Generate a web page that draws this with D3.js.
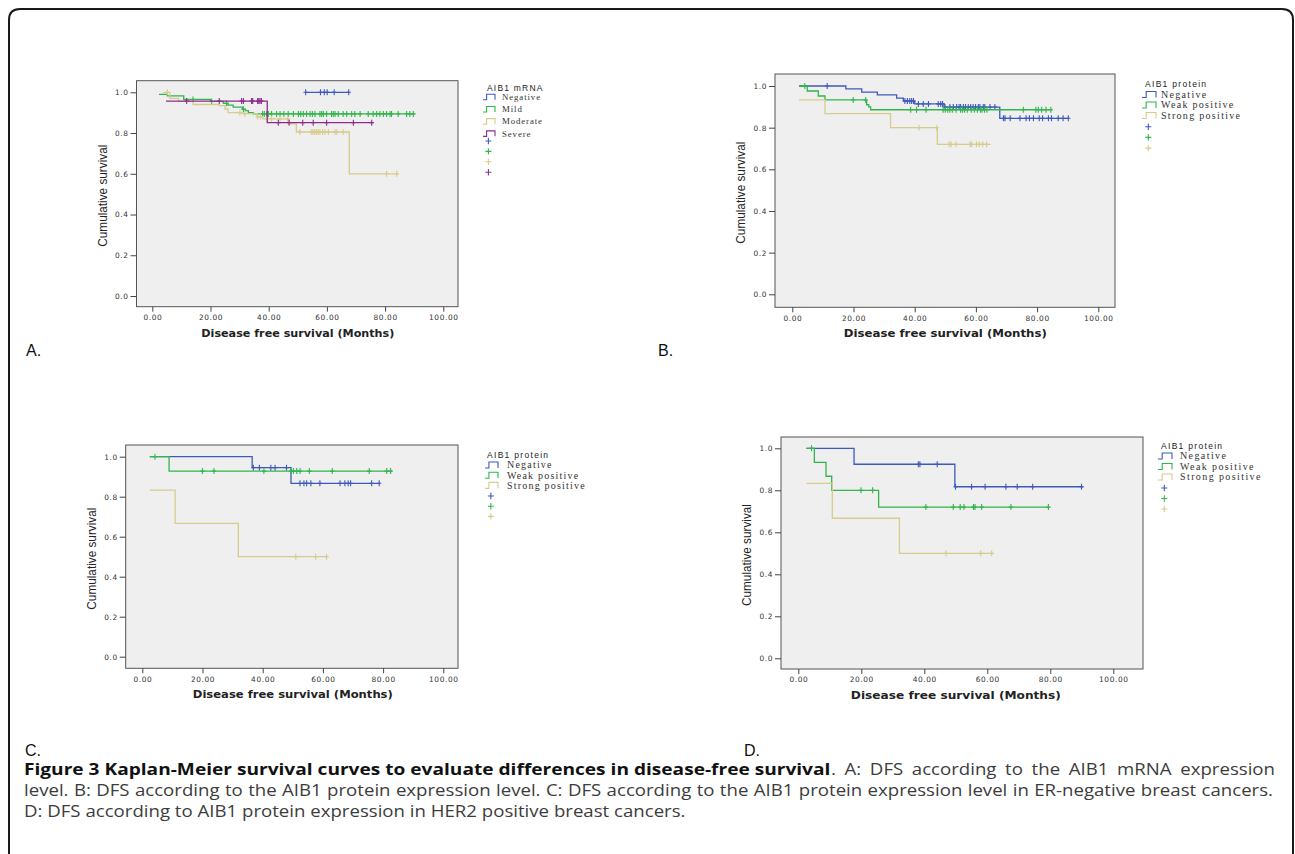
<!DOCTYPE html>
<html>
<head>
<meta charset="utf-8">
<script src="https://cdn.jsdelivr.net/npm/d3@7"></script>
<style>
  body { margin: 0; background: #fff; }
</style>
</head>
<body>
<script>
// ---- data: each step array is [time, survival after time], censor arrays are times ----
const xTicks = [0, 20, 40, 60, 80, 100];
const yTicks = [0, 0.2, 0.4, 0.6, 0.8, 1.0];

// A: AIB1 mRNA
const namesA = ["Negative", "Mild", "Moderate", "Severe"];
const negA = [[52.7, 1.0], [67.5, 1.0]];
const negACens = [52.7, 57.8, 59.1, 60.1, 62.5, 67.5];
const mildA = [[2.3, 0.99], [5.2, 0.982], [10.8, 0.965], [20, 0.955], [24.4, 0.946], [26, 0.937],
  [27.8, 0.927], [31, 0.917], [32, 0.91], [33, 0.90], [34.7, 0.894], [90.3, 0.894]];
const mildACens = [14, 20.4, 25.5, 31.3, 37.9, 38.5, 39.3, 39.9, 41.0, 42.7, 43.9, 45.2, 46.7, 48.5,
  50.2, 51.0, 51.9, 53.0, 54.2, 55.0, 55.9, 57.6, 58.2, 58.8, 59.9, 61.6, 62.2, 62.8, 63.9, 65.6,
  66.8, 68.5, 69.6, 71.4, 74.2, 75.9, 77.1, 78.2, 79.4, 80.5, 81.7, 82.2, 84.5, 87.4, 88.5, 89.7];
const modA = [[3.8, 1.0], [6, 0.97], [9, 0.955], [14, 0.94], [23, 0.935], [25, 0.918], [26, 0.9],
  [31, 0.895], [36, 0.88], [38, 0.87], [47, 0.845], [49.5, 0.805], [67.7, 0.60], [84.5, 0.60]];
const modACens = [5.2, 30.1, 31.8, 36.2, 37.2, 39.4, 41, 43.9, 46.5, 50.7, 54.6, 55.2, 55.8, 56.4,
  57, 57.6, 58.5, 59.3, 60.5, 62.8, 63.4, 65.6, 80.5, 84];
const sevA = [[4.7, 0.957], [39.5, 0.851], [76, 0.851]];
const sevACens = [11.8, 23, 30.7, 31.3, 34.1, 34.5, 36.2, 36.6, 37, 37.5, 43.3, 47, 51.7, 55.3,
  59.9, 69.1, 75.4];

// B: AIB1 protein
const namesProt = ["Negative", "Weak positive", "Strong positive"];
const negB = [[2.2, 1.0], [17.5, 0.986], [22.7, 0.971], [27.8, 0.957], [34.1, 0.942], [36.3, 0.928],
  [40, 0.914], [49.6, 0.899], [67.8, 0.845], [90.2, 0.845]];
const negBCens = [11.4, 36.8, 37.6, 38.4, 39, 39.6, 41.2, 42.8, 44.5, 47.7, 48.5, 49.1, 49.9, 51.5,
  52.6, 53.7, 54.5, 55, 55.9, 56.6, 57.5, 58.3, 59.1, 59.9, 60.8, 61.3, 62.4, 62.9, 64.6, 66.2,
  69, 69.5, 71.2, 74.4, 76.4, 77.5, 78.8, 80.7, 81.8, 83.7, 84.7, 86.9, 88.5, 90.2];
const weakB = [[2.2, 1.0], [4.9, 0.976], [8.5, 0.952], [10.7, 0.933], [24.3, 0.91], [25, 0.9],
  [25.6, 0.886], [84.7, 0.886]];
const weakBCens = [4.1, 19.9, 24, 38.7, 40.6, 43.7, 49.3, 50, 50.8, 51.5, 52.3, 53.5, 55, 55.6,
  56.3, 57.2, 58.5, 59.5, 60.5, 61.5, 62, 62.8, 63.6, 75.5, 79.6, 80.4, 81.5, 82.9, 84.5];
const strongB = [[2.2, 0.933], [10.7, 0.867], [32.1, 0.80], [47.4, 0.72], [64.8, 0.72]];
const strongBCens = [41.4, 47.2, 51.3, 51.9, 53.5, 58.1, 58.6, 60.2, 61.1, 62.2, 63.5];

// C: ER-negative
const negC = [[2.5, 1.0], [36.5, 0.945], [49.4, 0.867], [79, 0.867]];
const negCCens = [36.9, 38.9, 42.7, 44.1, 47.9, 52.4, 53.7, 54.6, 56, 59, 65.7, 67.3, 68.4, 69.2, 76.2, 78.7];
const weakC = [[2.5, 1.0], [8.9, 0.928], [83, 0.928]];
const weakCCens = [4.2, 20, 23.8, 40.4, 49.4, 50.2, 51.3, 52.4, 55.5, 63.1, 75.4, 81.2, 82.5];
const strongC = [[2.5, 0.833], [10.9, 0.667], [31.9, 0.5], [61.8, 0.5]];
const strongCCens = [51, 57.6, 61.2];

// D: HER2 positive
const negD = [[2.6, 1.0], [17.7, 0.924], [49.7, 0.817], [90.5, 0.817]];
const negDCens = [38.1, 38.6, 44.1, 49.9, 55, 59.3, 65.9, 69.5, 74.4, 89.9];
const weakD = [[2.6, 1.0], [5.1, 0.933], [8.8, 0.867], [10.6, 0.80], [25.5, 0.72], [79.7, 0.72]];
const weakDCens = [4.2, 19.9, 23.6, 40.5, 49.2, 51.4, 52.6, 55.6, 56.1, 58.2, 67.5, 79.4];
const strongD = [[2.6, 0.833], [10.8, 0.667], [32.1, 0.5], [61.9, 0.5]];
const strongDCens = [46.9, 57.9, 61.4];

const colors = ["#3f59bd", "#30b64a", "#d8cb8e", "#8e2b8e"];

// caption text
const captionBold = "Figure 3 Kaplan-Meier survival curves to evaluate differences in disease-free survival";
const captionLines = [
  ". A: DFS according to the AIB1 mRNA expression",
  "level. B: DFS according to the AIB1 protein expression level. C: DFS according to the AIB1 protein expression level in ER-negative breast cancers.",
  "D: DFS according to AIB1 protein expression in HER2 positive breast cancers."
];

const svg = d3.select("body").append("svg")
  .attr("width", 1295)
  .attr("height", 854)
  .style("font-family", "Liberation Sans, Arial, sans-serif");

// outer figure box, rounded top corners
svg.append("path")
  .attr("d", "M9,870 V20 Q9,9 20,9 H1282 Q1293,9 1293,20 V870")
  .attr("fill", "none")
  .attr("stroke", "#1a1a1a")
  .attr("stroke-width", 2);

// survival value at time t (step function)
function survAt(steps, t) {
  let s = steps[0][1];
  for (const p of steps) { if (p[0] <= t) s = p[1]; }
  return s;
}

function drawPanel(cfg, series, names, legendTitle) {
  const x = d3.scaleLinear().domain([0, 100]).range([cfg.x0, cfg.x100]);
  const y = d3.scaleLinear().domain([0, 1]).range([cfg.y0, cfg.y1]);
  const g = svg.append("g");

  g.append("rect")
    .attr("x", cfg.fl).attr("y", cfg.ft)
    .attr("width", cfg.fr - cfg.fl).attr("height", cfg.fb - cfg.ft)
    .attr("fill", "#efefef")
    .attr("stroke", "#555").attr("stroke-width", 1);

  // axes
  const ax = g.append("g")
    .attr("transform", `translate(0,${cfg.fb})`)
    .call(d3.axisBottom(x).tickValues(xTicks).tickFormat(d3.format(".2f")).tickSize(5).tickPadding(3));
  const ay = g.append("g")
    .attr("transform", `translate(${cfg.fl},0)`)
    .call(d3.axisLeft(y).tickValues(yTicks).tickFormat(d3.format(".1f")).tickSize(6).tickPadding(2));
  [ax, ay].forEach(a => {
    a.select(".domain").remove();
    a.selectAll("line").attr("stroke", "#444");
    a.selectAll("text")
      .attr("font-family", "DejaVu Sans, sans-serif")
      .attr("font-size", "7.4px")
      .style("letter-spacing", "0.6px")
      .attr("fill", "#333");
  });

  g.append("text")
    .attr("x", (cfg.x0 + cfg.x100) / 2)
    .attr("y", cfg.fb + 30)
    .attr("text-anchor", "middle")
    .attr("textLength", cfg.tlen)
    .attr("lengthAdjust", "spacingAndGlyphs")
    .attr("font-family", "DejaVu Sans, sans-serif")
    .attr("font-weight", "bold")
    .attr("font-size", "11px")
    .attr("fill", "#222")
    .text("Disease free survival (Months)");

  g.append("text")
    .attr("transform", `translate(${cfg.fl - 30},${(cfg.ft + cfg.fb) / 2 + 2}) rotate(-90)`)
    .attr("text-anchor", "middle")
    .attr("textLength", 102)
    .attr("lengthAdjust", "spacingAndGlyphs")
    .attr("font-size", "12px")
    .attr("fill", "#222")
    .text("Cumulative survival");

  // curves
  const line = d3.line().x(d => x(d[0])).y(d => y(d[1])).curve(d3.curveStepAfter);
  series.forEach((s, i) => {
    g.append("path")
      .attr("d", line(s.steps))
      .attr("fill", "none")
      .attr("stroke", colors[i])
      .attr("stroke-width", 1.3);
    g.append("g").selectAll("path")
      .data(s.cens)
      .enter().append("path")
      .attr("transform", d => `translate(${x(d)},${y(survAt(s.steps, d))})`)
      .attr("d", "M-2.2,0H2.2M0,-3V3")
      .attr("stroke", colors[i])
      .attr("stroke-width", 1.1);
  });

  // legend
  const L = cfg.leg;
  g.append("text")
    .attr("x", L.titleX).attr("y", L.titleY + 3)
    .attr("font-size", L.titleFs + "px")
    .style("letter-spacing", L.titleLs + "px")
    .attr("fill", "#222")
    .text(legendTitle);
  names.forEach((n, i) => {
    const ry = L.y + i * L.dy;
    g.append("path")
      .attr("d", `M${L.sx},${ry + L.sh / 2} H${L.sx + L.sw * 0.3} V${ry - L.sh / 2} H${L.sx + L.sw} V${ry + L.sh / 2}`)
      .attr("fill", "none")
      .attr("stroke", colors[i])
      .attr("stroke-width", 1.1);
    g.append("text")
      .attr("x", L.tx).attr("y", ry + L.fs * 0.33)
      .attr("font-family", "Liberation Serif, Times New Roman, serif")
      .attr("font-size", L.fs + "px")
      .style("letter-spacing", L.ls + "px")
      .attr("fill", "#333")
      .text(n);
  });
  names.forEach((n, i) => {
    const ry = L.cy + i * L.cdy;
    g.append("path")
      .attr("transform", `translate(${L.sx + L.sw * 0.45},${ry})`)
      .attr("d", "M-3,0H3M0,-3.2V3.2")
      .attr("stroke", colors[i])
      .attr("stroke-width", 1.1);
  });
}

drawPanel({
  fl: 136.5, ft: 80.7, fr: 458, fb: 306.7,
  x0: 152.3, x100: 443.3, y0: 296, y1: 92.3, tlen: 193,
  leg: { titleX: 487, titleY: 88, titleFs: 8.5, titleLs: 1.2, sx: 483, sw: 12, sh: 5.5, tx: 502,
         y: 97, dy: 12.2, fs: 8.8, ls: 0.9, cy: 141, cdy: 10.4 }
}, [
  { steps: negA, cens: negACens },
  { steps: mildA, cens: mildACens },
  { steps: modA, cens: modACens },
  { steps: sevA, cens: sevACens }
], namesA, "AIB1 mRNA");

drawPanel({
  fl: 775, ft: 74, fr: 1115, fb: 307.3,
  x0: 792.3, x100: 1098.3, y0: 294.3, y1: 86, tlen: 203,
  leg: { titleX: 1145, titleY: 84, titleFs: 8.5, titleLs: 1.3, sx: 1142, sw: 14, sh: 6, tx: 1161,
         y: 94.5, dy: 10.5, fs: 10, ls: 1.3, cy: 126.7, cdy: 10.7 }
}, [
  { steps: negB, cens: negBCens },
  { steps: weakB, cens: weakBCens },
  { steps: strongB, cens: strongBCens }
], namesProt, "AIB1 protein");

drawPanel({
  fl: 125.7, ft: 445, fr: 458, fb: 668.3,
  x0: 142.3, x100: 443.3, y0: 656.7, y1: 456.7, tlen: 200,
  leg: { titleX: 487, titleY: 455, titleFs: 8.5, titleLs: 1.3, sx: 485, sw: 13, sh: 6, tx: 507,
         y: 465, dy: 10.2, fs: 10, ls: 1.2, cy: 496, cdy: 10.2 }
}, [
  { steps: negC, cens: negCCens },
  { steps: weakC, cens: weakCCens },
  { steps: strongC, cens: strongCCens }
], namesProt, "AIB1 protein");

drawPanel({
  fl: 781, ft: 437, fr: 1143, fb: 669,
  x0: 798.3, x100: 1113.3, y0: 658.3, y1: 448.3, tlen: 210,
  leg: { titleX: 1161, titleY: 445.7, titleFs: 8.5, titleLs: 1.3, sx: 1158, sw: 14, sh: 6, tx: 1180,
         y: 456, dy: 10.5, fs: 10, ls: 1.4, cy: 488, cdy: 10.5 }
}, [
  { steps: negD, cens: negDCens },
  { steps: weakD, cens: weakDCens },
  { steps: strongD, cens: strongDCens }
], namesProt, "AIB1 protein");

// panel letters
const panelLetters = [["A.", 26, 356], ["B.", 658, 356], ["C.", 25, 756], ["D.", 744, 756]];
svg.selectAll(".plabel")
  .data(panelLetters)
  .enter().append("text")
  .attr("class", "plabel")
  .attr("x", d => d[1])
  .attr("y", d => d[2])
  .attr("font-size", "16px")
  .attr("fill", "#111")
  .text(d => d[0]);

// caption: horizontal scale to match widths, lines 1-2 justified via word-spacing
const capSize = 15.5;
const capG = svg.append("g");

function capText(txt, bold) {
  return capG.append("text")
    .attr("x", 0).attr("y", 0)
    .attr("font-family", "Open Sans, sans-serif")
    .attr("font-size", capSize + "px")
    .attr("font-weight", bold ? "bold" : null)
    .attr("fill", bold ? "#111" : "#3c3c3c")
    .text(txt);
}
function place(t, x, yb, sx) {
  t.attr("transform", `translate(${x},${yb}) scale(${sx},1)`);
}
function justify(t, sx, width, txt) {
  const natural = t.node().getComputedTextLength();
  const spaces = txt.split(" ").length - 1;
  t.style("word-spacing", ((width / sx - natural) / spaces) + "px");
}

// regular squeeze from line 3 (about 662px wide in reference)
const l3 = capText(captionLines[2], false);
const sq = 662 / l3.node().getComputedTextLength();
place(l3, 24, 817, sq);

// bold part: ends around x = 831
const boldEnd = 831;
const b1 = capText(captionBold, true);
const sqb = (boldEnd - 24) / b1.node().getComputedTextLength();
place(b1, 24, 775, sqb);

const r1 = capText(captionLines[0], false);
place(r1, boldEnd, 775, sq);
justify(r1, sq, 1275 - boldEnd, captionLines[0]);

const r2 = capText(captionLines[1], false);
place(r2, 24, 796, sq);
justify(r2, sq, 1249, captionLines[1]);
</script>
</body>
</html>
